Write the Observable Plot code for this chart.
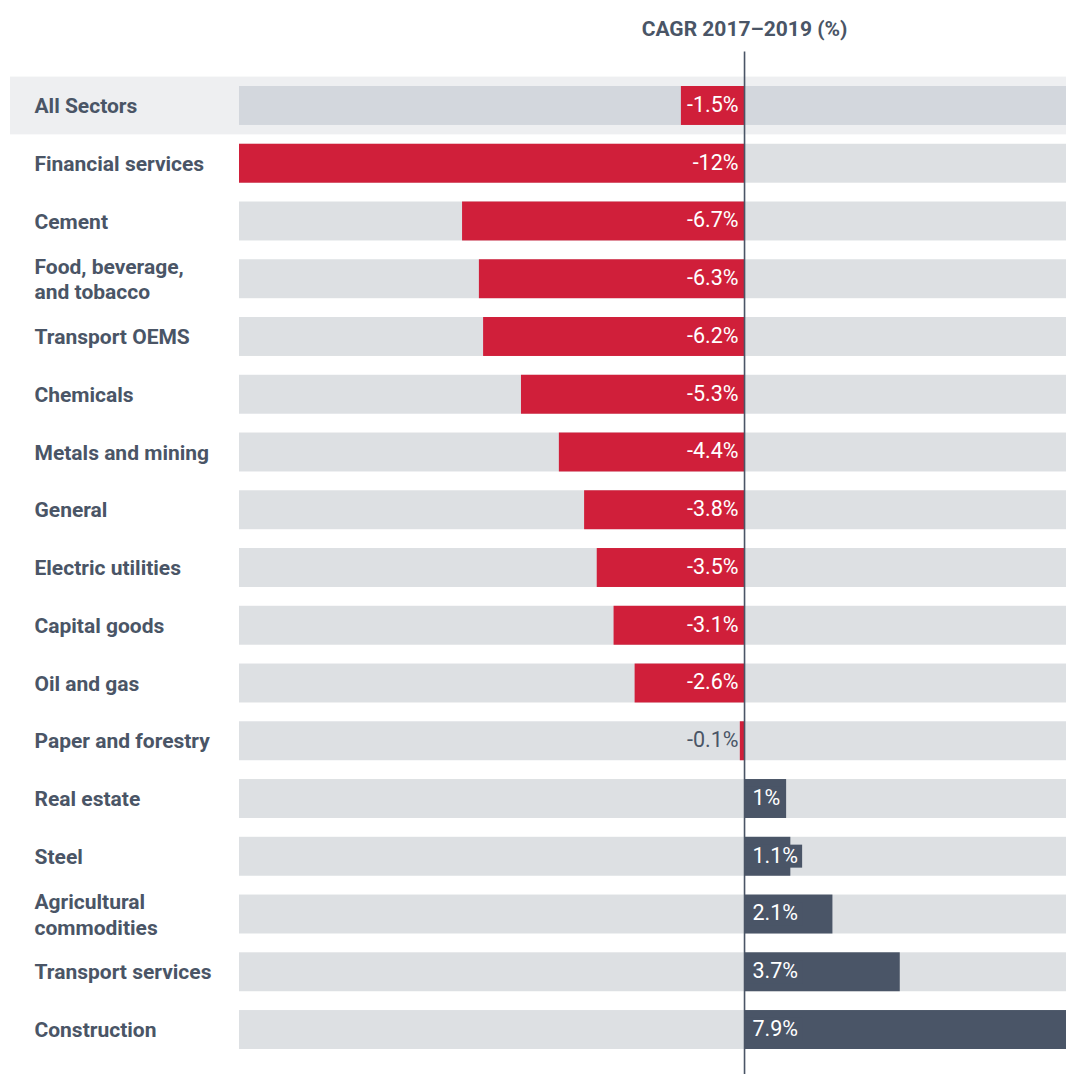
<!DOCTYPE html>
<html>
<head>
<meta charset="utf-8">
<script src="https://cdn.jsdelivr.net/npm/d3@7"></script>
<script src="https://cdn.jsdelivr.net/npm/@observablehq/plot@0.6"></script>
<style>
  html, body { margin: 0; padding: 0; background: #fff; }
  #chart svg { display: block; overflow: hidden; }
</style>
</head>
<body>
<div id="chart"></div>
<script>
const title = "CAGR 2017–2019 (%)";
const sectors = [
  "All Sectors", "Financial services", "Cement", "Food, beverage,\nand tobacco",
  "Transport OEMS", "Chemicals", "Metals and mining", "General",
  "Electric utilities", "Capital goods", "Oil and gas", "Paper and forestry",
  "Real estate", "Steel", "Agricultural\ncommodities", "Transport services", "Construction"
];
const cagr = [-1.5, -12, -6.7, -6.3, -6.2, -5.3, -4.4, -3.8, -3.5, -3.1, -2.6, -0.1, 1, 1.1, 2.1, 3.7, 7.9];
const highlighted = ["All Sectors"];
const xDomain = [-12, 7.65];

const data = sectors.map((s, i) => ({sector: s, value: cagr[i], label: `${cagr[i]}%`}));
const neg = data.filter(d => d.value < 0);
const pos = data.filter(d => d.value >= 0);

const textColor = "#4a5566";
const red = "#d01f3a";
const dark = "#4a5567";

const chart = Plot.plot({
  width: 1066,
  height: 1074,
  marginLeft: 239,
  marginRight: 0,
  marginTop: 76.6,
  marginBottom: 15.6,
  style: {fontFamily: "Roboto, sans-serif", background: "#fff"},
  x: {domain: xDomain, axis: null},
  y: {domain: sectors, axis: null, padding: 0, round: false},
  marks: [
    // highlight band for All Sectors
    Plot.barX(highlighted, {y: d => d, x1: xDomain[0], x2: xDomain[1], fill: "#eeeff1", insetLeft: -229}),
    // background bars
    Plot.barX(data, {y: "sector", x1: xDomain[0], x2: xDomain[1],
      fill: d => highlighted.includes(d.sector) ? "#d3d7dd" : "#dde0e3",
      insetTop: 9.4, insetBottom: 9.4}),
    // value bars
    Plot.barX(data, {y: "sector", x1: 0, x2: "value",
      fill: d => d.value < 0 ? red : dark,
      insetTop: 9.4, insetBottom: 9.4, clip: "frame"}),
    // zero line
    Plot.ruleX([0], {stroke: "#4a5566", strokeWidth: 1.6, insetTop: -25, insetBottom: -16}),
    // value labels
    Plot.text(neg, {y: "sector", x: 0, text: "label", textAnchor: "end", dx: -6, dy: -1,
      fill: d => Math.abs(d.value) < 0.5 ? textColor : "#fff", fontSize: 21.5}),
    Plot.text(pos, {y: "sector", x: 0, text: "label", textAnchor: "start", dx: 8, dy: -1,
      fill: "#fff", fontSize: 21.5}),
    // sector labels
    Plot.text(data, {y: "sector", text: "sector", frameAnchor: "left", dx: -205, dy: -1,
      textAnchor: "start", fill: textColor, fontWeight: 700, fontSize: 21, lineHeight: 1.22}),
    // title
    Plot.text([title], {x: 0, frameAnchor: "top", dy: -56, text: d => d,
      fill: textColor, fontWeight: 700, fontSize: 21})
  ]
});

document.getElementById("chart").append(chart);

// dark label boxes behind positive value labels (sized from the rendered text)
const posLabels = new Set(pos.map(d => d.label));
const ns = "http://www.w3.org/2000/svg";
const svgRect = chart.getBoundingClientRect();
chart.querySelectorAll("text").forEach(t => {
  if (!posLabels.has(t.textContent)) return;
  const b = t.getBoundingClientRect();
  const r = document.createElementNS(ns, "rect");
  r.setAttribute("x", b.left - svgRect.left - 8);
  r.setAttribute("y", b.top - svgRect.top + 2);
  r.setAttribute("width", b.width + 12);
  r.setAttribute("height", b.height - 2);
  r.setAttribute("fill", dark);
  const g = t.parentNode;
  // insert as a sibling before the text's group so the box sits under the text
  g.parentNode.insertBefore(r, g);
});
</script>
</body>
</html>
